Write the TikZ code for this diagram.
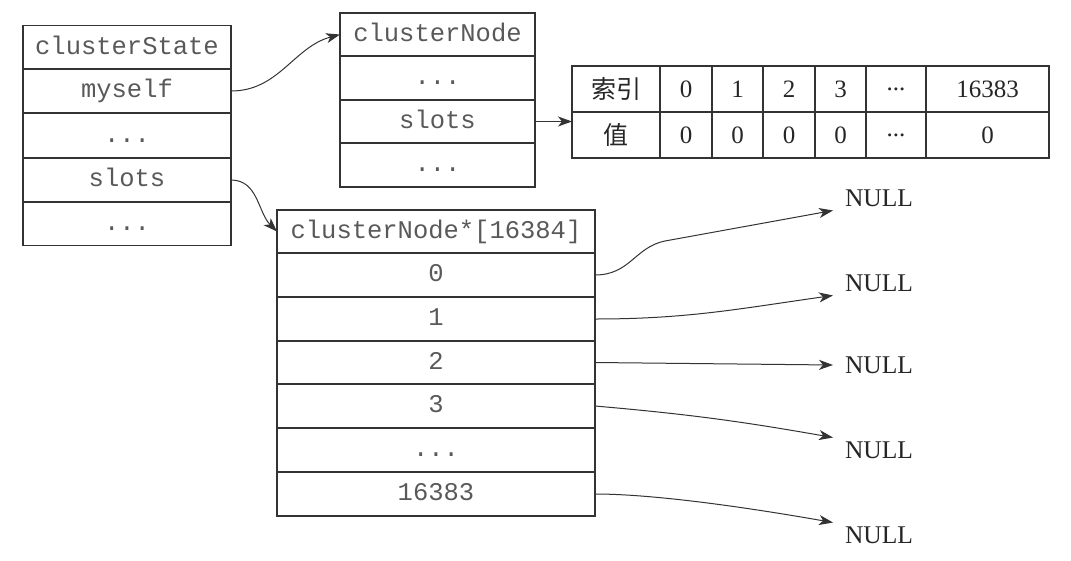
\documentclass[tikz,border=0pt]{standalone}
\usepackage{fontspec}
\setmainfont{Liberation Serif}
\setmonofont{Liberation Mono}
\newfontfamily\cjk{Noto Sans CJK SC}
\usetikzlibrary{arrows.meta}

\begin{document}
\begin{tikzpicture}[x=1pt,y=-1pt,
        box/.style={draw=black!80,line width=1.8pt,inner sep=0pt,outer sep=0pt,text=black!65,
                font=\fontsize{25.5}{30}\ttfamily,text height=17pt,text depth=4pt},
        cell/.style={draw=black!80,line width=1.8pt,inner sep=0pt,outer sep=0pt,minimum height=46pt,
                text=black!85,font=\fontsize{25}{30}\selectfont},
        nullnode/.style={anchor=west,inner xsep=12pt,inner ysep=4pt,outer sep=0pt,text=black!85,
                font=\fontsize{25.5}{30}\selectfont},
        ptr/.style={-{Stealth[length=14pt,width=10pt,inset=4pt]},line width=1pt,draw=black!80}]
        \useasboundingbox (0,0) rectangle (1071,560);
        % clusterState
        \node[box,minimum width=208pt,minimum height=44pt] (st0) at (127,47.5) {clusterState};
        \node[box,minimum width=208pt,minimum height=44pt] (st1) at (127,91) {myself};
        \node[box,minimum width=208pt,minimum height=44pt] (st2) at (127,135.5) {...};
        \node[box,minimum width=208pt,minimum height=44pt] (st3) at (127,180) {slots};
        \node[box,minimum width=208pt,minimum height=44pt] (st4) at (127,223.5) {...};
        % clusterNode
        \node[box,minimum width=195pt,minimum height=43.5pt] (nd0) at (437.5,34.5) {clusterNode};
        \node[box,minimum width=195pt,minimum height=43.5pt] (nd1) at (437.5,78) {...};
        \node[box,minimum width=195pt,minimum height=43.5pt] (nd2) at (437.5,121.5) {slots};
        \node[box,minimum width=195pt,minimum height=43.5pt] (nd3) at (437.5,165) {...};
        % slots bitmap
        \node[cell,minimum width=88pt] (idx0) at (616,89) {\cjk 索引};
        \node[cell,minimum width=52pt] (idx1) at (686,89) {0};
        \node[cell,minimum width=51pt] (idx2) at (737.5,89) {1};
        \node[cell,minimum width=52pt] (idx3) at (789,89) {2};
        \node[cell,minimum width=51pt] (idx4) at (840.5,89) {3};
        \node[cell,minimum width=60pt] (idx5) at (896,89) {...};
        \node[cell,minimum width=123pt] (idx6) at (987.5,89) {16383};
        \node[cell,minimum width=88pt] (val0) at (616,135) {\cjk 值};
        \node[cell,minimum width=52pt] (val1) at (686,135) {0};
        \node[cell,minimum width=51pt] (val2) at (737.5,135) {0};
        \node[cell,minimum width=52pt] (val3) at (789,135) {0};
        \node[cell,minimum width=51pt] (val4) at (840.5,135) {0};
        \node[cell,minimum width=60pt] (val5) at (896,135) {...};
        \node[cell,minimum width=123pt] (val6) at (987.5,135) {0};
        % clusterNode*[16384]
        \node[box,minimum width=318pt,minimum height=43.7pt] (arr0) at (436,231.5) {clusterNode*[16384]};
        \node[box,minimum width=318pt,minimum height=43.7pt] (arr1) at (436,275) {0};
        \node[box,minimum width=318pt,minimum height=43.7pt] (arr2) at (436,319) {1};
        \node[box,minimum width=318pt,minimum height=43.7pt] (arr3) at (436,362.5) {2};
        \node[box,minimum width=318pt,minimum height=43.7pt] (arr4) at (436,406) {3};
        \node[box,minimum width=318pt,minimum height=43.7pt] (arr5) at (436,450) {...};
        \node[box,minimum width=318pt,minimum height=43.7pt] (arr6) at (436,494) {16383};
        % NULL
        \node[nullnode] (null0) at (833,198) {NULL};
        \node[nullnode] (null1) at (833,283) {NULL};
        \node[nullnode] (null2) at (833,365) {NULL};
        \node[nullnode] (null3) at (833,450) {NULL};
        \node[nullnode] (null4) at (833,535) {NULL};
        \draw[ptr] (st1.east) to[out=0,in=195] (nd0.west);
        \draw[ptr] (st3.east) to[out=0,in=135] (arr0.west);
        \draw[ptr] (nd2.east) -- (nd2.east -| val0.west);
        \draw[ptr] (arr1.east) .. controls +(35,0) and +(-30,6) .. ++(70,-34) -- (null0.south west);
        \draw[ptr] (arr2.east) to[out=0,in=188] (null1.south west);
        \draw[ptr] (arr3.east) -- (null2.west);
        \draw[ptr] (arr4.east) to[out=-5,in=170] (null3.north west);
        \draw[ptr] (arr6.east) to[out=0,in=170,out looseness=0.6] (null4.north west);
\end{tikzpicture}
\end{document}
